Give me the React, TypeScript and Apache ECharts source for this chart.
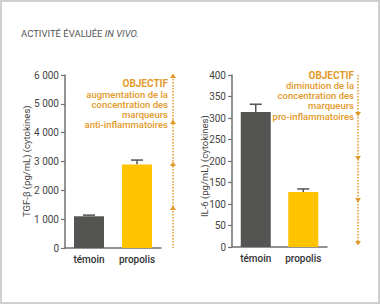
import React, { useEffect, useRef } from "react";
import * as echarts from "echarts";

const categories = ["témoin", "propolis"];
const tgfValues = [1100, 2900];
const tgfErrors = [1140, 3050];
const il6Values = [314, 128];
const il6Errors = [332, 135];
const tgfTicks = { min: 0, max: 6000, interval: 1000 };
const il6Ticks = { min: 0, max: 400, interval: 50 };
const leftObjectif = ["OBJECTIF", "augmentation de la", "concentration des", "marqueurs", "anti-inflammatoires"];
const rightObjectif = ["OBJECTIF", "diminution de la", "concentration des", "marqueurs", "pro-inflammatoires"];

const FONT = "Roboto";
const ORANGE = "#E39A2A";
const DARK = "#545452";
const YELLOW = "#FFC300";
const AXIS = "#707070";

function fmt(v: number) {
  return String(v).replace(/\B(?=(\d{3})+(?!\d))/g, " ");
}

function errorSeries(xi: number, data: number[][]) {
  return {
    type: "custom",
    xAxisIndex: xi,
    yAxisIndex: xi,
    z: 1,
    data,
    renderItem: (params: any, api: any) => {
      const top = api.coord([api.value(0), api.value(2)]);
      const base = api.coord([api.value(0), api.value(1)]);
      return {
        type: "group",
        children: [
          { type: "line", shape: { x1: top[0], y1: base[1], x2: top[0], y2: top[1] }, style: { stroke: DARK, lineWidth: 1.5 } },
          { type: "line", shape: { x1: top[0] - 6, y1: top[1], x2: top[0] + 6, y2: top[1] }, style: { stroke: DARK, lineWidth: 1.5 } },
        ],
      };
    },
  };
}

function arrowHead(x: number, y: number, up: boolean) {
  const d = up ? -1 : 1;
  return {
    type: "polygon",
    shape: { points: [[x - 3, y - d * 2], [x + 3, y - d * 2], [x, y + d * 2.5]] },
    style: { fill: ORANGE },
  };
}

function objectifTexts(lines: string[], rightX: number, ys: number[]) {
  return lines.map((t, i) => ({
    type: "text",
    x: rightX,
    y: ys[i],
    style: {
      text: t,
      fill: ORANGE,
      fontFamily: FONT,
      fontSize: i === 0 ? 10 : 9.5,
      fontWeight: i === 0 ? "bold" : 500,
      lineHeight: 9.5,
      align: "right",
      verticalAlign: "middle",
    },
  }));
}

export default function App() {
  const ref = useRef<HTMLDivElement>(null);
  useEffect(() => {
    if (!ref.current) return;
    const chart = echarts.init(ref.current, undefined, { renderer: "svg" });
    const yAxisCommon = {
      type: "value",
      axisLine: { show: true, lineStyle: { color: AXIS, width: 1.5 } },
      axisTick: { show: true, length: 4, lineStyle: { color: AXIS, width: 1.2 } },
      splitLine: { show: false },
      axisLabel: { color: "#444", fontSize: 10, fontFamily: FONT, margin: 6 },
    };
    const xAxisCommon = {
      type: "category",
      data: categories,
      axisLine: { show: true, lineStyle: { color: AXIS, width: 1.5 } },
      axisTick: { show: false },
      axisLabel: { color: "#333", fontSize: 10, fontWeight: 500, fontFamily: FONT, margin: 6 },
    };
    const leftArrowX = 173;
    const rightArrowX = 358;
    chart.setOption({
      animation: false,
      backgroundColor: "#fff",
      grid: [
        { left: 65, right: 219, top: 75, bottom: 56 },
        { left: 232, right: 53, top: 75, bottom: 57 },
      ],
      xAxis: [
        { ...xAxisCommon, gridIndex: 0 },
        { ...xAxisCommon, gridIndex: 1 },
      ],
      yAxis: [
        { ...yAxisCommon, gridIndex: 0, ...tgfTicks, axisLabel: { ...yAxisCommon.axisLabel, formatter: (v: number) => fmt(v) } },
        { ...yAxisCommon, gridIndex: 1, ...il6Ticks },
      ],
      series: [
        {
          type: "bar",
          xAxisIndex: 0,
          yAxisIndex: 0,
          barWidth: 30,
          z: 2,
          data: tgfValues.map((v, i) => ({ value: v, itemStyle: { color: i === 0 ? DARK : YELLOW } })),
        },
        errorSeries(0, tgfValues.map((v, i) => [i, v, tgfErrors[i]])),
        {
          type: "bar",
          xAxisIndex: 1,
          yAxisIndex: 1,
          barWidth: 30,
          z: 2,
          data: il6Values.map((v, i) => ({ value: v, itemStyle: { color: i === 0 ? DARK : YELLOW } })),
        },
        errorSeries(1, il6Values.map((v, i) => [i, v, il6Errors[i]])),
      ],
      graphic: [
        { type: "rect", shape: { x: 1, y: 1, width: 378, height: 302 }, style: { fill: "none", stroke: "#cfcfcf", lineWidth: 2 } },
        {
          type: "text",
          x: 21,
          y: 33,
          style: {
            text: "{n|ACTIVITÉ ÉVALUÉE }{i|IN VIVO.}",
            verticalAlign: "middle",
            rich: {
              n: { fontFamily: FONT, fontSize: 9.5, fontWeight: 400, fill: "#555", color: "#555" },
              i: { fontFamily: FONT, fontSize: 9.5, fontWeight: 400, fontStyle: "italic", fill: "#555", color: "#555" },
            },
          },
        },
        {
          type: "text",
          x: 26,
          y: 217,
          rotation: Math.PI / 2,
          style: { text: "TGF-β (pg/mL) (cytokines)", fill: "#444", font: `9.5px ${FONT}`, align: "left", verticalAlign: "middle" },
        },
        {
          type: "text",
          x: 204,
          y: 217,
          rotation: Math.PI / 2,
          style: { text: "IL-6 (pg/mL) (cytokines)", fill: "#444", font: `9.5px ${FONT}`, align: "left", verticalAlign: "middle" },
        },
        ...objectifTexts(leftObjectif, 168, [83, 94, 104, 114, 124]),
        ...objectifTexts(rightObjectif, 354, [75, 85.5, 95.5, 105.5, 116]),
        { type: "line", shape: { x1: leftArrowX, y1: 76, x2: leftArrowX, y2: 248 }, style: { stroke: ORANGE, lineWidth: 1.5, lineDash: [1.5, 1.5] } },
        arrowHead(leftArrowX, 76, true),
        arrowHead(leftArrowX, 122, true),
        arrowHead(leftArrowX, 164, true),
        arrowHead(leftArrowX, 208, true),
        { type: "line", shape: { x1: rightArrowX, y1: 75, x2: rightArrowX, y2: 244 }, style: { stroke: ORANGE, lineWidth: 1.5, lineDash: [1.5, 1.5] } },
        arrowHead(rightArrowX, 114, false),
        arrowHead(rightArrowX, 158, false),
        arrowHead(rightArrowX, 200, false),
        arrowHead(rightArrowX, 243, false),
      ],
    });
    return () => chart.dispose();
  }, []);
  return <div ref={ref} style={{ position: "fixed", left: 0, top: 0, width: 380, height: 304 }} />;
}
